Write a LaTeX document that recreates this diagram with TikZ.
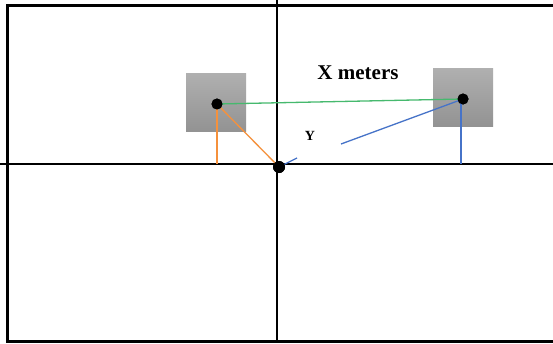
\documentclass[tikz,border=0pt]{standalone}
\usepackage{fontspec}
\setmainfont{Liberation Serif}
\begin{document}
\begin{tikzpicture}[x=1pt,y=-1pt,
  graybox/.style={minimum width=60pt,minimum height=58pt,inner sep=0pt,top color=gray!62,bottom color=gray!85,draw=none},
  dotnode/.style={circle,fill=black,inner sep=0pt,minimum size=11pt},
  axis/.style={line width=1.1pt,black},
  frameline/.style={line width=3pt,black},
  grn/.style={line width=1.3pt,draw={rgb,255:red,70;green,185;blue,110}},
  org/.style={line width=1.3pt,draw={rgb,255:red,245;green,145;blue,60}},
  blu/.style={line width=1.3pt,draw={rgb,255:red,70;green,115;blue,200}}]
\useasboundingbox (0,0) rectangle (553,343);
\fill[white] (0,0) rectangle (553,343);
% frame
\draw[frameline] (560,5) -- (7,5) -- (7,341) -- (560,341);
% axes
\coordinate (xl) at (0,164);
\coordinate (xr) at (553,164);
\coordinate (yt) at (277,0);
\coordinate (yb) at (277,343);
\draw[axis] (xl) -- (xr);
\draw[axis] (yt) -- (yb);
% boxes
\node[graybox] (boxL) at (216,102) {};
\node[graybox] (boxR) at (463,97) {};
% dots
\node[dotnode] (dotL) at (217,104) {};
\node[dotnode] (dotR) at (463,99) {};
\node[dotnode,minimum size=12pt] (orig) at (279,167) {};
% connector ends
\coordinate (footL) at (217,164);
\coordinate (topR) at (461,101);
\coordinate (footR) at (461,164);
\coordinate (bA) at (297,158);
\coordinate (bB) at (341,144);
% connectors
\draw[grn] (dotL.center) -- (dotR.center);
\draw[org] (dotL.center) -- (footL);
\draw[org] (dotL.center) -- (orig.center);
\draw[blu] (orig.center) -- (bA);
\draw[blu] (bB) -- (dotR.center);
\draw[blu] (topR) -- (footR);
\node[dotnode] at (dotL) {};
\node[dotnode] at (dotR) {};
\node[dotnode,minimum size=12pt] at (orig) {};
% labels
\node[font=\fontsize{21}{24}\selectfont\bfseries] (xlab) at (358,73) {X meters};
\node[font=\fontsize{14}{16}\selectfont\bfseries] (ylab) at (310,136) {Y};
\end{tikzpicture}
\end{document}
